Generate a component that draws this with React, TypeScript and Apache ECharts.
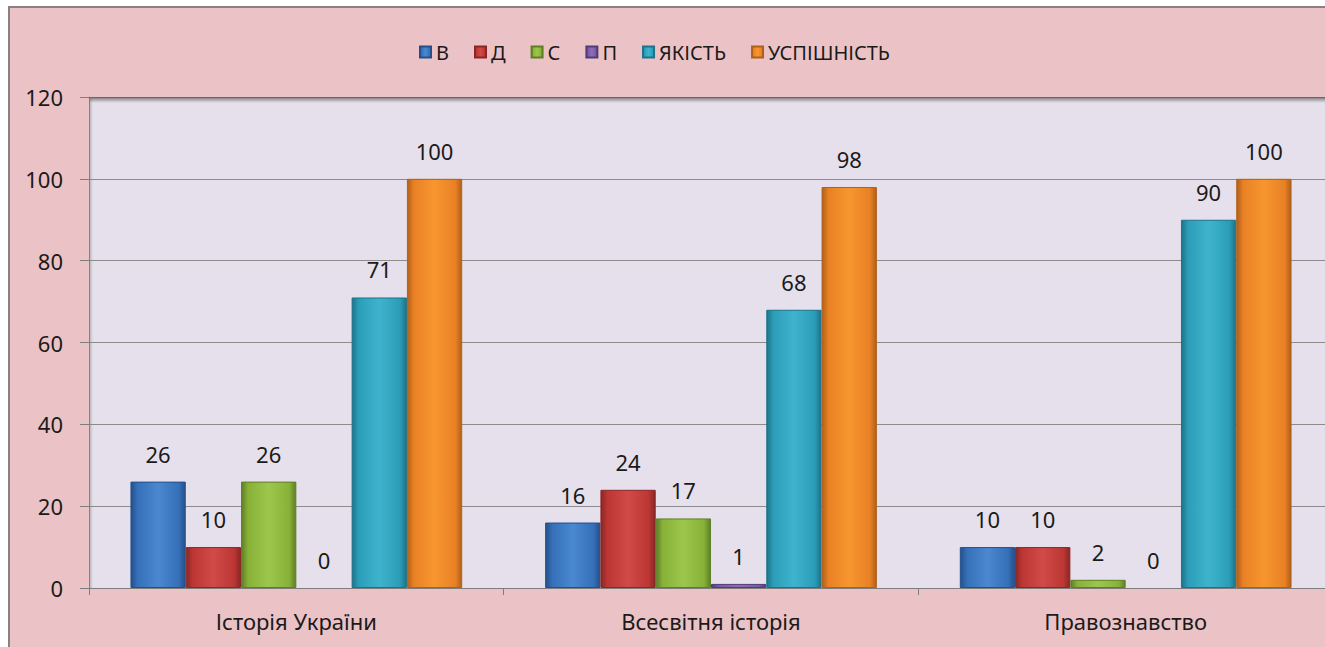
import React, { useEffect, useRef } from "react";
import * as echarts from "echarts";

const categories = ["Історія України", "Всесвітня історія", "Правознавство"];
const seriesNames = ["В", "Д", "С", "П", "ЯКІСТЬ", "УСПІШНІСТЬ"];
const valuesB = [26, 16, 10];
const valuesD = [10, 24, 10];
const valuesC = [26, 17, 2];
const valuesP = [0, 1, 0];
const valuesQuality = [71, 68, 90];
const valuesSuccess = [100, 98, 100];
const yTicks = [0, 20, 40, 60, 80, 100, 120];

const palette = [
  { dark: "#24508A", base: "#3570B8", light: "#4A88D0" },
  { dark: "#8A2726", base: "#BC3634", light: "#D04B48" },
  { dark: "#5F7F27", base: "#88B138", light: "#9CC64C" },
  { dark: "#533A78", base: "#7A58A4", light: "#8E6EB8" },
  { dark: "#1C7389", base: "#2B9DB8", light: "#3FB3CD" },
  { dark: "#B0601A", base: "#E98125", light: "#F7962F" },
];

const FONT = "'Noto Sans', 'Open Sans', sans-serif";

function barColor(i: number) {
  const p = palette[i];
  return new echarts.graphic.LinearGradient(0, 0, 1, 0, [
    { offset: 0, color: p.dark },
    { offset: 0.12, color: p.base },
    { offset: 0.5, color: p.light },
    { offset: 0.88, color: p.base },
    { offset: 1, color: p.dark },
  ]);
}

export default function App() {
  const ref = useRef<HTMLDivElement>(null);

  useEffect(() => {
    if (!ref.current) return;
    const chart = echarts.init(ref.current, undefined, { renderer: "svg" });
    const allValues = [valuesB, valuesD, valuesC, valuesP, valuesQuality, valuesSuccess];

    const gridLeft = 89;
    const gridTop = 97;
    const gridHeight = 491;

    chart.setOption({
      animation: false,
      backgroundColor: "transparent",
      textStyle: { fontFamily: FONT },
      legend: {
        data: seriesNames,
        top: 37,
        left: 414,
        itemWidth: 11,
        itemHeight: 11,
        itemGap: 25,
        icon: "rect",
        textStyle: { fontSize: 20, color: "#1a1a1a", fontFamily: FONT },
      },
      grid: {
        left: gridLeft,
        top: gridTop,
        width: 1244,
        height: gridHeight,
        show: true,
        backgroundColor: "#E5E0EB",
        borderWidth: 0,
      },
      xAxis: {
        type: "category",
        data: categories,
        axisLine: { show: true, lineStyle: { color: "#7d7d7d", width: 1 } },
        axisTick: { show: true, length: 7, lineStyle: { color: "#7d7d7d" } },
        axisLabel: { fontSize: 22, color: "#1a1a1a", margin: 22, fontFamily: FONT },
      },
      yAxis: {
        type: "value",
        min: yTicks[0],
        max: yTicks[yTicks.length - 1],
        interval: 20,
        axisLine: { show: true, lineStyle: { color: "#8a8a8a", width: 1 } },
        axisTick: { show: true, length: 9, lineStyle: { color: "#7d7d7d" } },
        axisLabel: { fontSize: 22, color: "#1a1a1a", margin: 26, fontFamily: FONT },
        splitLine: { show: true, lineStyle: { color: "#8c8c8c", width: 1 } },
      },
      graphic: [
        {
          type: "rect",
          shape: { x: gridLeft, y: gridTop, width: 1250, height: 6 },
          style: {
            fill: new echarts.graphic.LinearGradient(0, 0, 0, 1, [
              { offset: 0, color: "rgba(90,90,90,0.85)" },
              { offset: 1, color: "rgba(120,120,120,0)" },
            ]),
          },
          silent: true,
          z: 1,
        },
        {
          type: "rect",
          shape: { x: gridLeft, y: gridTop, width: 4, height: gridHeight },
          style: {
            fill: new echarts.graphic.LinearGradient(0, 0, 1, 0, [
              { offset: 0, color: "rgba(120,120,120,0.5)" },
              { offset: 1, color: "rgba(120,120,120,0)" },
            ]),
          },
          silent: true,
          z: 1,
        },
      ],
      series: seriesNames.map((name, i) => ({
        name,
        type: "bar",
        data: allValues[i].map((v) => ({
          value: v,
          itemStyle: { borderWidth: v > 0 ? 1 : 0 },
        })),
        barGap: "0%",
        barCategoryGap: "20%",
        itemStyle: {
          color: barColor(i),
          borderColor: palette[i].dark,
          borderWidth: 1,
        },
        label: {
          show: true,
          position: "top",
          distance: 17,
          fontSize: 22,
          color: "#1a1a1a",
          fontFamily: FONT,
        },
      })),
    });

    return () => chart.dispose();
  }, []);

  return (
    <div
      style={{
        position: "absolute",
        left: 0,
        top: 0,
        width: 1325,
        height: 647,
        background: "#ffffff",
        overflow: "hidden",
      }}
    >
      <div
        style={{
          position: "absolute",
          left: 8,
          top: 6,
          right: 0,
          bottom: 0,
          background: "#EBC3C6",
          borderLeft: "2px solid #8C7F80",
          borderTop: "2px solid #8C7F80",
        }}
      />
      <div
        ref={ref}
        style={{ position: "absolute", left: 0, top: 0, width: 1345, height: 647 }}
      />
    </div>
  );
}
